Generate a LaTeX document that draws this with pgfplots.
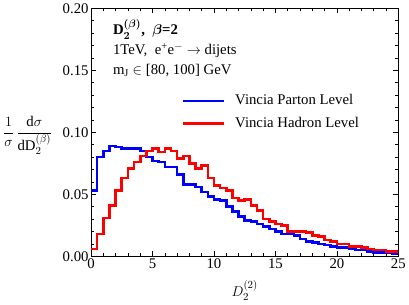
\documentclass[border=0pt]{standalone}
\usepackage{pgfplots}
\pgfplotsset{compat=1.18}
\usepackage{pgfplotstable}
\usetikzlibrary{calc}
\usepackage{amsmath}
\usepackage{fontspec}
\setmainfont{Liberation Serif}

\pgfplotstableread{
x y
0.0 0.053
0.5 0.080
1.0 0.085
1.5 0.089
2.0 0.088
2.5 0.087
3.0 0.087
3.5 0.087
4.0 0.085
4.5 0.080
5.0 0.077
5.5 0.076
6.0 0.072
6.5 0.072
7.0 0.066
7.5 0.058
8.0 0.058
8.5 0.056
9.0 0.052
9.5 0.048
10.0 0.046
10.5 0.045
11.0 0.040
11.5 0.036
12.0 0.032
12.5 0.029
13.0 0.028
13.5 0.026
14.0 0.024
14.5 0.022
15.0 0.020
15.5 0.018
16.0 0.018
16.5 0.017
17.0 0.014
17.5 0.012
18.0 0.011
18.5 0.010
19.0 0.009
19.5 0.008
20.0 0.007
20.5 0.007
21.0 0.006
21.5 0.005
22.0 0.005
22.5 0.004
23.0 0.003
23.5 0.003
24.0 0.003
24.5 0.002
25.0 0.002
}\parton

\pgfplotstableread{
x y
0.0 0.006
0.5 0.018
1.0 0.031
1.5 0.041
2.0 0.053
2.5 0.063
3.0 0.071
3.5 0.076
4.0 0.081
4.5 0.085
5.0 0.087
5.5 0.084
6.0 0.087
6.5 0.085
7.0 0.079
7.5 0.081
8.0 0.075
8.5 0.071
9.0 0.073
9.5 0.063
10.0 0.057
10.5 0.055
11.0 0.053
11.5 0.047
12.0 0.045
12.5 0.046
13.0 0.041
13.5 0.037
14.0 0.030
14.5 0.028
15.0 0.026
15.5 0.025
16.0 0.020
16.5 0.020
17.0 0.020
17.5 0.019
18.0 0.017
18.5 0.016
19.0 0.013
19.5 0.012
20.0 0.010
20.5 0.010
21.0 0.008
21.5 0.008
22.0 0.007
22.5 0.006
23.0 0.005
23.5 0.005
24.0 0.004
24.5 0.004
25.0 0.004
}\hadron

\begin{document}
\begin{tikzpicture}[font=\rmfamily\fontsize{15}{18}\selectfont]
\begin{axis}[
  name=ax,
  scale only axis,
  width=311bp, height=251bp,
  clip mode=individual,
  xmin=0, xmax=25, ymin=0, ymax=0.2,
  xtick={0,5,10,15,20,25},
  ytick={0,0.05,0.10,0.15,0.20},
  minor x tick num=4,
  minor y tick num=4,
  tick align=inside,
  major tick length=5bp,
  minor tick length=3bp,
  tick style={black, line width=0.6bp},
  axis line style={black, line width=0.8bp},
  /pgf/number format/assume math mode=true,
  ticklabel style={font=\rmfamily\fontsize{15}{18}\selectfont},
  yticklabel style={/pgf/number format/fixed, /pgf/number format/fixed zerofill, /pgf/number format/precision=2, xshift=1bp},
  xticklabel style={yshift=1bp},
  scaled y ticks=false,
  legend style={at={(rel axis cs:0.293,0.655)}, anchor=north west, draw=none, fill=none,
    inner sep=0pt, row sep=9bp,
    nodes={inner sep=0pt, text height=11bp, text depth=3bp, font=\rmfamily\fontsize{15}{18}\selectfont}},
  legend cell align=left,
  legend image code/.code={\draw[#1] (0bp,0bp) -- (42bp,0bp);},
  legend image post style={line width=2.6bp},
]
\addplot[const plot mark left, blue, line width=2.6bp, no markers] table[x=x,y=y] {\parton};
\addlegendentry{\hspace{10bp}Vincia Parton Level}
\addplot[const plot mark left, red, line width=2.6bp, no markers] table[x=x,y=y] {\hadron};
\addlegendentry{\hspace{10bp}Vincia Hadron Level}

\node[anchor=base west, inner sep=0pt] at (axis cs:1.77,0.1785) {$\boldsymbol{\mathrm{D}_2^{(\beta)}}$\textbf{,\ \ }$\boldsymbol{\beta}$\textbf{=2}};
\node[anchor=base west, inner sep=0pt] at (axis cs:1.77,0.1625) {1TeV,\ \ e\textsuperscript{+}e\textsuperscript{$-$} $\to$ dijets};
\node[anchor=base west, inner sep=0pt] at (axis cs:1.77,0.1466) {m\textsubscript{J} $\in$ [80, 100] GeV};
\end{axis}
\node at ($(ax.south west)!0.486!(ax.north west)$) [xshift=-64bp] {$\dfrac{1}{\sigma}\,\dfrac{\mathrm{d}\sigma}{\mathrm{dD}_2^{(\beta)}}$};
\node at ($(ax.south west)!0.5!(ax.south east)$) [yshift=-35bp] {$D_2^{(2)}$};
\useasboundingbox ([xshift=-90bp,yshift=-47bp]ax.south west) rectangle ([xshift=8bp,yshift=6bp]ax.north east);
\end{tikzpicture}
\end{document}
